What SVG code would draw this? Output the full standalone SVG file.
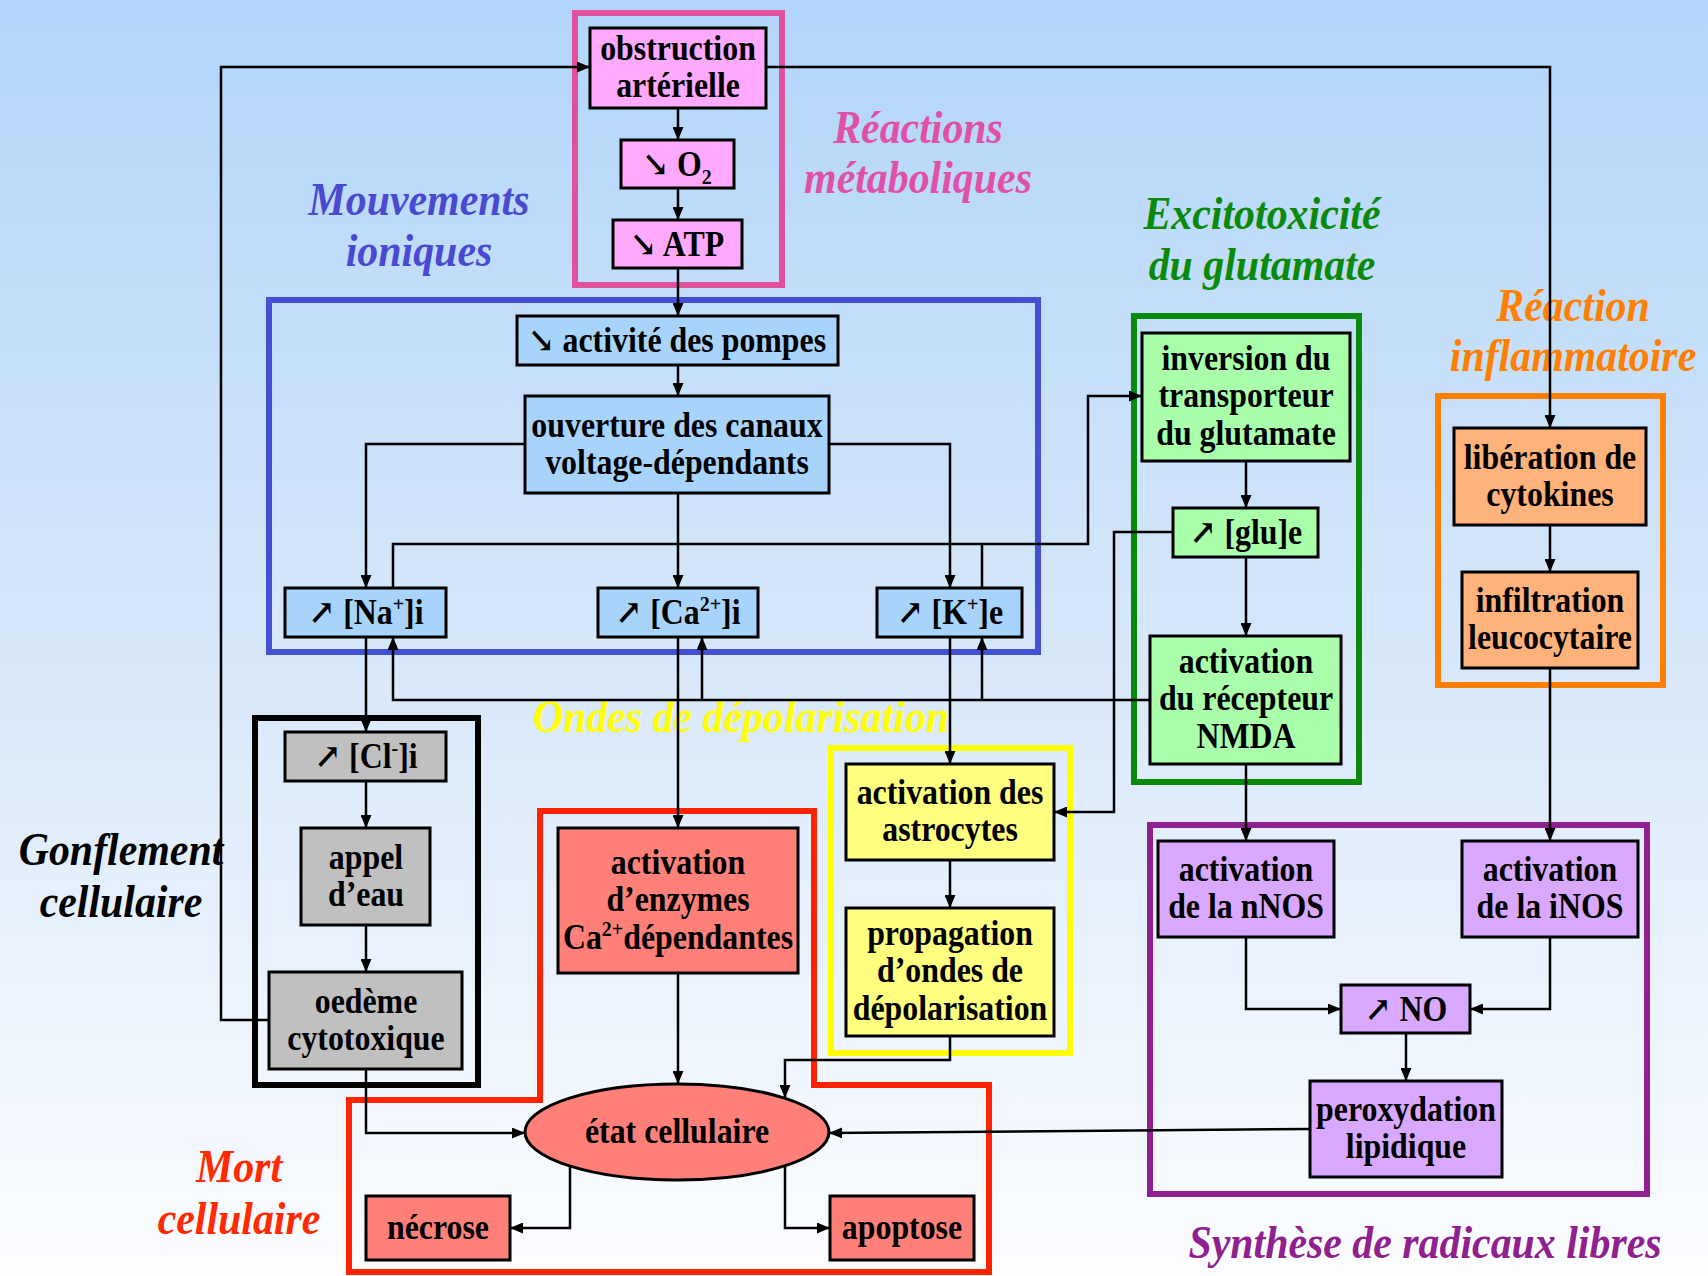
<svg xmlns="http://www.w3.org/2000/svg" width="1708" height="1276" viewBox="0 0 1708 1276">
<defs>
<linearGradient id="bg" x1="0" y1="0" x2="0" y2="1">
<stop offset="0" stop-color="#b1d5f9"/>
<stop offset="0.5" stop-color="#d6e7fa"/>
<stop offset="1" stop-color="#fcfdff"/>
</linearGradient>
<marker id="ah" markerUnits="userSpaceOnUse" markerWidth="13" markerHeight="11" refX="13" refY="5.5" orient="auto">
<path d="M0,0 L13,5.5 L0,11 z" fill="#000"/>
</marker>
<style>
.t{font-family:"Liberation Serif","Times New Roman","DejaVu Serif",serif;font-weight:bold;font-size:35px;text-anchor:middle;fill:#000}
.h{font-family:"Liberation Serif","Times New Roman","DejaVu Serif",serif;font-weight:bold;font-style:italic;font-size:46px;text-anchor:middle}
.b{stroke:#000;stroke-width:3}
.pk{fill:#ffaaff}.bl{fill:#a8d4fc}.gr{fill:#aaffaa}.or{fill:#ffb27a}.gy{fill:#c0c0c0}.rd{fill:#ff8078}.yl{fill:#ffff80}.pu{fill:#d9a9ff}
.f{fill:none;stroke-width:6}
.c{fill:none;stroke:#000;stroke-width:2.5}
.a{marker-end:url(#ah)}
</style>
</defs>
<rect x="0" y="0" width="1708" height="1276" fill="url(#bg)"/>

<g id="titles">
<text class="h" fill="#e050a8" transform="translate(918,143) scale(.91,1)"><tspan x="0">Réactions</tspan><tspan x="0" dy="50">métaboliques</tspan></text>
<text class="h" fill="#4a4ad0" transform="translate(419,215) scale(.91,1)"><tspan x="0">Mouvements</tspan><tspan x="0" dy="51">ioniques</tspan></text>
<text class="h" fill="#0a8a0a" transform="translate(1262,229) scale(.91,1)"><tspan x="0">Excitotoxicité</tspan><tspan x="0" dy="51">du glutamate</tspan></text>
<text class="h" fill="#ff8000" transform="translate(1573,321) scale(.91,1)"><tspan x="0">Réaction</tspan><tspan x="0" dy="50">inflammatoire</tspan></text>
<text class="h" fill="#ffff00" transform="translate(741,732) scale(.91,1)">Ondes de dépolarisation</text>
<text class="h" fill="#000" transform="translate(121,865) scale(.91,1)"><tspan x="0">Gonflement</tspan><tspan x="0" dy="52">cellulaire</tspan></text>
<text class="h" fill="#ff2a00" transform="translate(239,1182) scale(.91,1)"><tspan x="0">Mort</tspan><tspan x="0" dy="52">cellulaire</tspan></text>
<text class="h" fill="#902090" transform="translate(1425,1258) scale(.91,1)">Synthèse de radicaux libres</text>
</g>

<g id="frames">
<rect id="frame-metabolic" class="f" stroke="#e0509c" x="575" y="13" width="207" height="272"/>
<rect id="frame-ionic" class="f" stroke="#4450d4" x="269" y="300" width="769" height="352"/>
<rect id="frame-excito" class="f" stroke="#0a8a0a" x="1134" y="316" width="225" height="466"/>
<rect id="frame-inflam" class="f" stroke="#ff7f00" x="1438" y="396" width="225" height="289"/>
<rect id="frame-swelling" class="f" stroke="#000" stroke-width="7" x="255" y="718" width="223" height="367"/>
<path id="frame-death" class="f" stroke="#ff2200" d="M540,811 H814 V1085 H989 V1272 H349 V1100 H540 Z"/>
<rect id="frame-waves" class="f" stroke="#ffff00" x="831" y="748" width="239" height="305"/>
<rect id="frame-radicals" class="f" stroke="#902090" x="1150" y="825" width="497" height="369"/>
</g>

<g id="connectors">
<path class="c a" d="M678,108 V140"/>
<path class="c a" d="M678,188 V220"/>
<path class="c a" d="M678,268 V316"/>
<path class="c a" d="M678,365 V396"/>
<path class="c a" d="M525,444 H366 V588"/>
<path class="c a" d="M678,493 V588"/>
<path class="c a" d="M829,444 H950 V588"/>
<path class="c a" d="M269,1020 H221 V67 H590"/>
<path class="c a" d="M766,67 H1550 V428"/>
<path class="c a" d="M393,588 V544 H1088 V396 H1142"/>
<path class="c" d="M982,588 V544"/>
<path class="c a" d="M1150,700 H393 V637"/>
<path class="c a" d="M702,700 V637"/>
<path class="c a" d="M982,700 V637"/>
<path class="c a" d="M366,637 V732"/>
<path class="c a" d="M366,781 V828"/>
<path class="c a" d="M366,925 V972"/>
<path class="c a" d="M366,1069 V1133 H525"/>
<path class="c a" d="M678,637 V828"/>
<path class="c a" d="M678,973 V1084"/>
<path class="c a" d="M950,637 V764"/>
<path class="c a" d="M950,860 V908"/>
<path class="c a" d="M950,1036 V1060 H785 V1098"/>
<path class="c a" d="M570,1166 V1228 H510"/>
<path class="c a" d="M785,1166 V1228 H830"/>
<path class="c a" d="M1246,461 V508"/>
<path class="c a" d="M1246,557 V636"/>
<path class="c a" d="M1173,532 H1114 V812 H1054"/>
<path class="c a" d="M1246,764 V841"/>
<path class="c a" d="M1550,525 V572"/>
<path class="c a" d="M1550,668 V841"/>
<path class="c a" d="M1246,937 V1009 H1341"/>
<path class="c a" d="M1550,937 V1009 H1470"/>
<path class="c a" d="M1406,1033 V1081"/>
<path class="c a" d="M1310,1129 L829,1133"/>
</g>

<g id="obstruction"><rect class="b pk" x="590" y="28" width="176" height="80"/>
<text class="t" transform="translate(678,60) scale(.91,1)"><tspan x="0">obstruction</tspan><tspan x="0" dy="37.5">artérielle</tspan></text></g>
<g id="o2"><rect class="b pk" x="621" y="140" width="113" height="48"/>
<text class="t" transform="translate(677,176) scale(.91,1)">↘ O<tspan dy="8" font-size="22">2</tspan></text></g>
<g id="atp"><rect class="b pk" x="613" y="220" width="129" height="48"/>
<text class="t" transform="translate(677,256) scale(.91,1)">↘ ATP</text></g>

<g id="pompes"><rect class="b bl" x="517" y="316" width="321" height="49"/>
<text class="t" transform="translate(677,352) scale(.91,1)">↘ activité des pompes</text></g>
<g id="canaux"><rect class="b bl" x="525" y="396" width="304" height="97"/>
<text class="t" transform="translate(677,437) scale(.91,1)"><tspan x="0">ouverture des canaux</tspan><tspan x="0" dy="37.5">voltage-dépendants</tspan></text></g>
<g id="na"><rect class="b bl" x="285" y="588" width="161" height="49"/>
<text class="t" transform="translate(366,624) scale(.91,1)">↗ [Na<tspan dy="-13" font-size="22">+</tspan><tspan dy="13">]i</tspan></text></g>
<g id="ca"><rect class="b bl" x="598" y="588" width="160" height="49"/>
<text class="t" transform="translate(678,624) scale(.91,1)">↗ [Ca<tspan dy="-13" font-size="22">2+</tspan><tspan dy="13">]i</tspan></text></g>
<g id="k"><rect class="b bl" x="877" y="588" width="145" height="49"/>
<text class="t" transform="translate(950,624) scale(.91,1)">↗ [K<tspan dy="-13" font-size="22">+</tspan><tspan dy="13">]e</tspan></text></g>

<g id="inversion"><rect class="b gr" x="1142" y="333" width="208" height="128"/>
<text class="t" transform="translate(1246,370) scale(.91,1)"><tspan x="0">inversion du</tspan><tspan x="0" dy="37.5">transporteur</tspan><tspan x="0" dy="37.5">du glutamate</tspan></text></g>
<g id="glu"><rect class="b gr" x="1173" y="508" width="145" height="49"/>
<text class="t" transform="translate(1246,544) scale(.91,1)">↗ [glu]e</text></g>
<g id="nmda"><rect class="b gr" x="1150" y="636" width="191" height="128"/>
<text class="t" transform="translate(1246,673) scale(.91,1)"><tspan x="0">activation</tspan><tspan x="0" dy="37.5">du récepteur</tspan><tspan x="0" dy="37.5">NMDA</tspan></text></g>

<g id="cytokines"><rect class="b or" x="1454" y="428" width="192" height="97"/>
<text class="t" transform="translate(1550,469) scale(.91,1)"><tspan x="0">libération de</tspan><tspan x="0" dy="37.5">cytokines</tspan></text></g>
<g id="infiltration"><rect class="b or" x="1462" y="572" width="176" height="96"/>
<text class="t" transform="translate(1550,612) scale(.91,1)"><tspan x="0">infiltration</tspan><tspan x="0" dy="37.5">leucocytaire</tspan></text></g>

<g id="cl"><rect class="b gy" x="285" y="732" width="161" height="49"/>
<text class="t" transform="translate(366,768) scale(.91,1)">↗ [Cl<tspan dy="-13" font-size="22">-</tspan><tspan dy="13">]i</tspan></text></g>
<g id="appel"><rect class="b gy" x="301" y="828" width="129" height="97"/>
<text class="t" transform="translate(366,869) scale(.91,1)"><tspan x="0">appel</tspan><tspan x="0" dy="37.5">d’eau</tspan></text></g>
<g id="oedeme"><rect class="b gy" x="269" y="972" width="193" height="97"/>
<text class="t" transform="translate(366,1013) scale(.91,1)"><tspan x="0">oedème</tspan><tspan x="0" dy="37.5">cytotoxique</tspan></text></g>

<g id="enzymes"><rect class="b rd" x="558" y="828" width="240" height="145"/>
<text class="t" transform="translate(678,874) scale(.91,1)"><tspan x="0">activation</tspan><tspan x="0" dy="37.5">d’enzymes</tspan><tspan x="0" dy="37.5">Ca</tspan><tspan dy="-13" font-size="22">2+</tspan><tspan dy="13">dépendantes</tspan></text></g>
<g id="etat"><ellipse class="b rd" cx="677" cy="1132" rx="152" ry="48"/>
<text class="t" transform="translate(677,1143) scale(.91,1)">état cellulaire</text></g>
<g id="necrose"><rect class="b rd" x="366" y="1196" width="144" height="64"/>
<text class="t" transform="translate(438,1239) scale(.91,1)">nécrose</text></g>
<g id="apoptose"><rect class="b rd" x="830" y="1196" width="144" height="64"/>
<text class="t" transform="translate(902,1239) scale(.91,1)">apoptose</text></g>

<g id="astrocytes"><rect class="b yl" x="846" y="764" width="208" height="96"/>
<text class="t" transform="translate(950,804) scale(.91,1)"><tspan x="0">activation des</tspan><tspan x="0" dy="37.5">astrocytes</tspan></text></g>
<g id="propagation"><rect class="b yl" x="846" y="908" width="208" height="128"/>
<text class="t" transform="translate(950,945) scale(.91,1)"><tspan x="0">propagation</tspan><tspan x="0" dy="37.5">d’ondes de</tspan><tspan x="0" dy="37.5">dépolarisation</tspan></text></g>

<g id="nnos"><rect class="b pu" x="1158" y="841" width="176" height="96"/>
<text class="t" transform="translate(1246,881) scale(.91,1)"><tspan x="0">activation</tspan><tspan x="0" dy="37.5">de la nNOS</tspan></text></g>
<g id="inos"><rect class="b pu" x="1462" y="841" width="176" height="96"/>
<text class="t" transform="translate(1550,881) scale(.91,1)"><tspan x="0">activation</tspan><tspan x="0" dy="37.5">de la iNOS</tspan></text></g>
<g id="no"><rect class="b pu" x="1341" y="985" width="129" height="48"/>
<text class="t" transform="translate(1406,1021) scale(.91,1)">↗ NO</text></g>
<g id="peroxydation"><rect class="b pu" x="1310" y="1081" width="192" height="96"/>
<text class="t" transform="translate(1406,1121) scale(.91,1)"><tspan x="0">peroxydation</tspan><tspan x="0" dy="37.5">lipidique</tspan></text></g>
</svg>
